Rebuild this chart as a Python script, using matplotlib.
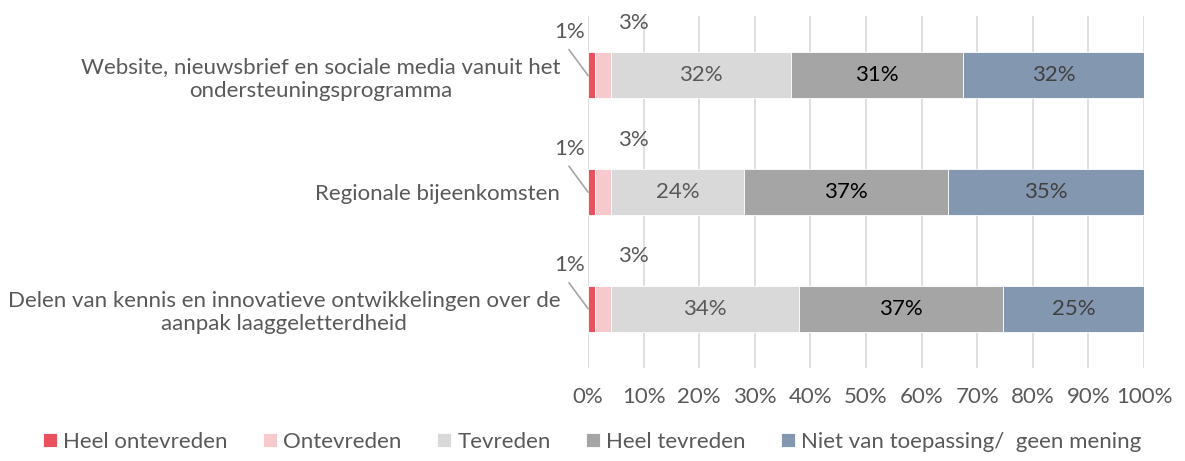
import numpy as np
import matplotlib.pyplot as plt

plt.rcParams['font.family'] = ['Lato', 'DejaVu Sans']

categories = ['Website, nieuwsbrief en sociale media vanuit het\nondersteuningsprogramma',
              'Regionale bijeenkomsten',
              'Delen van kennis en innovatieve ontwikkelingen over de\naanpak laaggeletterdheid']
series = ['Heel ontevreden', 'Ontevreden', 'Tevreden', 'Heel tevreden',
          'Niet van toepassing/  geen mening']
# shares per category (percent)
heel_ontevreden = [1.3, 1.3, 1.3]
ontevreden = [2.9, 2.9, 2.9]
tevreden = [32.3, 23.9, 33.7]
heel_tevreden = [30.9, 36.6, 36.7]
geen_mening = [32.6, 35.3, 25.4]
labels = [[1, 3, 32, 31, 32],
          [1, 3, 24, 37, 35],
          [1, 3, 34, 37, 25]]

colors = ['#E8515D', '#F6C9CC', '#D9D9D9', '#A5A5A5', '#8497B0']
label_colors = ['#595959', '#595959', '#595959', '#000000', '#404040']

data = np.array([heel_ontevreden, ontevreden, tevreden, heel_tevreden, geen_mening]) / 100

fig = plt.figure(figsize=(11.85, 4.61), dpi=100)
ax = fig.add_axes([588 / 1185, 1 - 368 / 461, (1144 - 588) / 1185, 352 / 461])

fs = 16
y = np.arange(len(categories))
left = np.zeros(len(categories))
for i, name in enumerate(series):
    ax.barh(y, data[i], left=left, height=0.395, color=colors[i], label=name,
            edgecolor='white', linewidth=0.6, zorder=3)
    for j in range(len(categories)):
        txt = f'{labels[j][i]}%'
        if i == 0:
            # small slice: label outside with a leader line
            ax.text(-0.033, y[j] - 0.37, txt, ha='center', va='center',
                    fontsize=fs, color='#595959')
            ax.plot([left[j] - 0.034, left[j]], [y[j] - 0.22, y[j]],
                    color='#A6A6A6', lw=1.2, zorder=4, clip_on=False)
        elif i == 1:
            ax.text(0.082, y[j] - 0.45, txt, ha='center', va='center',
                    fontsize=fs, color='#595959')
        else:
            ax.text(left[j] + data[i][j] / 2, y[j], txt, ha='center', va='center',
                    fontsize=fs, color=label_colors[i])
    left += data[i]

ax.set_xlim(0, 1)
ax.set_ylim(2.51, -0.51)
ax.set_xticks(np.linspace(0, 1, 11))
ax.set_xticklabels([f'{int(v)}%' for v in np.arange(0, 101, 10)])
ax.set_yticks(y)
ax.set_yticklabels(categories, multialignment='center')
ax.tick_params(axis='both', length=0, labelsize=fs, colors='#595959')
ax.tick_params(axis='x', pad=14)
ax.tick_params(axis='y', pad=20)
for s in ax.spines.values():
    s.set_visible(False)
ax.grid(axis='x', color='#D9D9D9', linewidth=1.2, zorder=0)
ax.set_axisbelow(True)

fig.legend(loc='center', bbox_to_anchor=(0.5, 1 - 442 / 461), ncol=5, frameon=False,
           fontsize=fs, labelcolor='#595959', handlelength=0.6, handleheight=0.6,
           handletextpad=0.3, columnspacing=1.6)

plt.savefig('out.png', dpi=100)
